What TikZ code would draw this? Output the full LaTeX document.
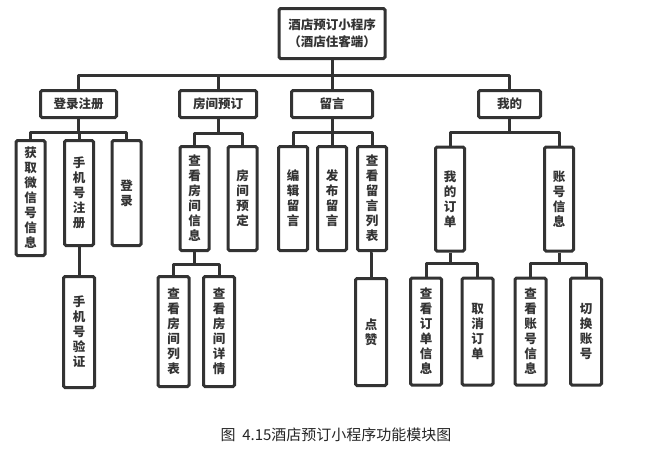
\documentclass[tikz,border=0pt]{standalone}
\usepackage{fontspec}
\setmainfont{Noto Sans CJK SC}
\begin{document}
\begin{tikzpicture}[x=1pt,y=-1pt,
  box/.style={draw=black!80, line width=3pt, rounded corners=1.5pt, fill=white,
    font=\fontsize{12.5}{15}\selectfont\bfseries, text=black!80, align=center, inner sep=0pt},
  lone/.style={box, minimum height=27},
  ltwo/.style={box, minimum width=29, minimum height=#1},
  lthree/.style={box, minimum width=31, minimum height=107},
  link/.style={draw=black!80, line width=3pt, line join=round}]
\useasboundingbox (0,0) rectangle (654,466);
\fill[white] (0,0) rectangle (654,466);
% root
\node[box, minimum width=106, minimum height=50, font=\fontsize{12.5}{17}\selectfont\bfseries] (root) at (332,33.5) {酒店预订小程序\\（酒店住客端）};
% level 1
\node[lone, minimum width=76] (a) at (78.5,104) {登录注册};
\node[lone, minimum width=77] (b) at (218,104) {房间预订};
\node[lone, minimum width=81] (c) at (332,104) {留言};
\node[lone, minimum width=62] (d) at (509.5,104) {我的};
% level 2
\node[ltwo=115] (a1) at (30.5,198) {获\\取\\微\\信\\号\\信\\息};
\node[ltwo=105] (a2) at (79,193) {手\\机\\号\\注\\册};
\node[ltwo=105] (a3) at (126.5,193) {登\\录};
\node[ltwo=104] (b1) at (194.5,198.5) {查\\看\\房\\间\\信\\息};
\node[ltwo=104] (b2) at (242.5,198.5) {房\\间\\预\\定};
\node[ltwo=104] (c1) at (293,198.5) {编\\辑\\留\\言};
\node[ltwo=104] (c2) at (332,198.5) {发\\布\\留\\言};
\node[ltwo=104] (c3) at (372,198.5) {查\\看\\留\\言\\列\\表};
\node[ltwo=104] (d1) at (450,199) {我\\的\\订\\单};
\node[ltwo=104] (d2) at (559,199) {账\\号\\信\\息};
% level 3
\node[lthree, minimum height=111] (a21) at (79,332) {手\\机\\号\\验\\证};
\node[lthree, minimum height=110] (b11) at (173.5,331.5) {查\\看\\房\\间\\列\\表};
\node[lthree, minimum height=110] (b12) at (219,331.5) {查\\看\\房\\间\\详\\情};
\node[lthree] (c31) at (371,332) {点\\赞};
\node[lthree] (d11) at (426,331.5) {查\\看\\订\\单\\信\\息};
\node[lthree] (d12) at (477.5,331.5) {取\\消\\订\\单};
\node[lthree] (d21) at (530.5,331.5) {查\\看\\账\\号\\信\\息};
\node[lthree] (d22) at (586,331.5) {切\\换\\账\\号};
% connectors
\foreach \ch in {a,b,c,d}
  \draw[link] (root.south) -- (root.south |- 0,75) -| (\ch.north);
\foreach \ch in {a1,a2,a3}
  \draw[link] (a.south) -- (a.south |- 0,132) -| (\ch.north);
\foreach \ch in {b1,b2}
  \draw[link] (b.south) -- (b.south |- 0,133) -| (\ch.north);
\foreach \ch in {c1,c2,c3}
  \draw[link] (c.south) -- (c.south |- 0,132) -| (\ch.north);
\foreach \ch in {d1,d2}
  \draw[link] (d.south) -- (d.south |- 0,132) -| (\ch.north);
\draw[link] (a2.south) -- (a21.north);
\foreach \ch in {b11,b12}
  \draw[link] (b1.south) -- (b1.south |- 0,264) -| (\ch.north);
\draw[link] (c3.south) -- (c3.south -| c31.north) -- (c31.north);
\foreach \ch in {d11,d12}
  \draw[link] (d1.south) -- (d1.south |- 0,263) -| (\ch.north);
\foreach \ch in {d21,d22}
  \draw[link] (d2.south) -- (d2.south |- 0,263) -| (\ch.north);
% caption
\node[font=\fontsize{15}{18}\selectfont, text=black!85, inner sep=0pt] (cap) at (336,435) {图\ \ 4.15酒店预订小程序功能模块图};
\end{tikzpicture}
\end{document}
